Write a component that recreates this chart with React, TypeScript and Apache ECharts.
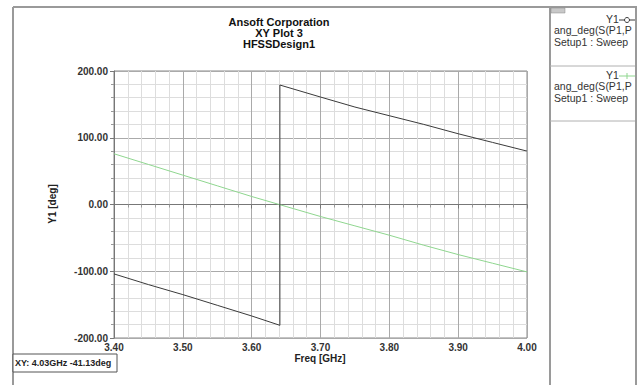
import React, { useEffect, useRef } from "react";
import * as echarts from "echarts";

const titleLines = ["Ansoft Corporation", "XY Plot 3", "HFSSDesign1"];
const blackFreq = [3.4, 3.45, 3.5, 3.55, 3.6, 3.641, 3.641, 3.7, 3.75, 3.8, 3.85, 3.9, 3.95, 4.0];
const blackDeg = [-104, -120, -135, -151, -167, -181, 179, 161, 146, 133, 120, 106, 93, 80];
const greenFreq = [3.4, 3.45, 3.5, 3.55, 3.6, 3.65, 3.7, 3.75, 3.8, 3.85, 3.9, 3.95, 4.0];
const greenDeg = [76, 60, 44, 28, 12, -3, -18, -32, -46, -61, -75, -88, -101];
const legendExpr = "ang_deg(S(P1,P1))";
const legendSetup = "Setup1 : Sweep1";
const statusText = "XY: 4.03GHz -41.13deg";

const FONT = "Arial, 'Liberation Sans', sans-serif";

export default function App() {
  const ref = useRef<HTMLDivElement>(null);
  useEffect(() => {
    if (!ref.current) return;
    const chart = echarts.init(ref.current, undefined, { renderer: "svg" });
    const frameColor = "#9a9a9a";
    const legendText = (x: number, y: number, t: string, extra: any = {}) => ({
      type: "text",
      x,
      y,
      z: 10,
      style: {
        text: t,
        fill: "#333",
        font: `10.5px ${FONT}`,
        textVerticalAlign: "middle",
        width: 79,
        overflow: "truncate",
        ellipsis: "",
        ...extra,
      },
    });
    chart.setOption({
      animation: false,
      backgroundColor: "#fff",
      grid: { left: 114, right: 112, top: 71, bottom: 47, show: true, borderColor: "#888", borderWidth: 1 },
      xAxis: {
        type: "value",
        min: 3.4,
        max: 4.0,
        interval: 0.1,
        axisLine: { show: true, lineStyle: { color: "#777" } },
        axisTick: { show: true, length: 4, lineStyle: { color: "#777" } },
        minorTick: { show: true, splitNumber: 5, length: 3, lineStyle: { color: "#999" } },
        splitLine: { show: true, lineStyle: { color: "#aaaaaa", width: 1 } },
        minorSplitLine: { show: true, lineStyle: { color: "#dddddd", width: 1 } },
        axisLabel: {
          color: "#333",
          fontFamily: FONT,
          fontWeight: "bold",
          fontSize: 10,
          margin: 4,
          formatter: (v: number) => v.toFixed(2),
        },
      },
      yAxis: {
        type: "value",
        min: -200,
        max: 200,
        interval: 100,
        axisLine: { show: true, lineStyle: { color: "#777" } },
        axisTick: { show: true, length: 4, lineStyle: { color: "#777" } },
        minorTick: { show: true, splitNumber: 5, length: 3, lineStyle: { color: "#999" } },
        splitLine: { show: true, lineStyle: { color: "#aaaaaa", width: 1 } },
        minorSplitLine: { show: true, lineStyle: { color: "#dddddd", width: 1 } },
        axisLabel: {
          color: "#333",
          fontFamily: FONT,
          fontWeight: "bold",
          fontSize: 10,
          margin: 6,
          formatter: (v: number) => v.toFixed(2),
        },
      },
      series: [
        {
          type: "line",
          data: blackFreq.map((f, i) => [f, blackDeg[i]]),
          showSymbol: false,
          lineStyle: { color: "#3a3a3a", width: 1 },
          z: 3,
        },
        {
          type: "line",
          data: greenFreq.map((f, i) => [f, greenDeg[i]]),
          showSymbol: false,
          lineStyle: { color: "#8fd68f", width: 1 },
          z: 2,
        },
      ],
      graphic: [
        // outer frame
        { type: "line", shape: { x1: 13, y1: 7, x2: 550, y2: 7 }, style: { stroke: frameColor, lineWidth: 2 } },
        { type: "line", shape: { x1: 13, y1: 7, x2: 13, y2: 385 }, style: { stroke: frameColor, lineWidth: 2 } },
        // legend panel
        { type: "rect", shape: { x: 550, y: 7, width: 86, height: 380 }, style: { fill: "#fff", stroke: frameColor, lineWidth: 2 } },
        { type: "line", shape: { x1: 550, y1: 66, x2: 636, y2: 66 }, style: { stroke: "#b0b0b0", lineWidth: 1 } },
        { type: "line", shape: { x1: 550, y1: 121, x2: 636, y2: 121 }, style: { stroke: "#b0b0b0", lineWidth: 1 } },
        { type: "rect", shape: { x: 551, y: 8, width: 14, height: 5 }, style: { fill: "#c8c8c8", stroke: "#888", lineWidth: 0.5 } },
        // legend 1
        legendText(606, 19, "Y1", { width: 20 }),
        { type: "line", z: 10, shape: { x1: 619, y1: 20, x2: 636, y2: 20 }, style: { stroke: "#3a3a3a", lineWidth: 1 } },
        { type: "circle", z: 11, shape: { cx: 627, cy: 20, r: 2.5 }, style: { fill: "#fff", stroke: "#3a3a3a", lineWidth: 1 } },
        legendText(554, 30, legendExpr),
        legendText(554, 42, legendSetup),
        // legend 2
        legendText(606, 75, "Y1", { width: 20 }),
        { type: "line", z: 10, shape: { x1: 619, y1: 76, x2: 636, y2: 76 }, style: { stroke: "#8fd68f", lineWidth: 1 } },
        { type: "line", z: 10, shape: { x1: 627, y1: 73, x2: 627, y2: 79 }, style: { stroke: "#8fd68f", lineWidth: 1 } },
        legendText(554, 86, legendExpr),
        legendText(554, 98, legendSetup),
        // clip right side
        { type: "rect", z: 20, shape: { x: 637, y: 0, width: 5, height: 385 }, style: { fill: "#fff" } },
        { type: "line", z: 21, shape: { x1: 636, y1: 7, x2: 636, y2: 385 }, style: { stroke: frameColor, lineWidth: 2 } },
        // title
        ...titleLines.map((t, i) => ({
          type: "text",
          x: 279,
          y: 22 + i * 11,
          style: { text: t, fill: "#111", font: `bold 11px ${FONT}`, textAlign: "center", textVerticalAlign: "middle" },
        })),
        // y axis name
        {
          type: "text",
          x: 52,
          y: 204,
          rotation: Math.PI / 2,
          style: { text: "Y1 [deg]", fill: "#222", font: `bold 10px ${FONT}`, textAlign: "center", textVerticalAlign: "middle" },
        },
        // x axis name
        {
          type: "text",
          x: 320,
          y: 358,
          style: { text: "Freq [GHz]", fill: "#222", font: `bold 10px ${FONT}`, textAlign: "center", textVerticalAlign: "middle" },
        },
        // status box
        { type: "rect", shape: { x: 13, y: 354, width: 104, height: 18 }, style: { fill: "#fff", stroke: "#555", lineWidth: 1 } },
        {
          type: "text",
          x: 15,
          y: 363,
          style: { text: statusText, fill: "#222", font: `bold 9px ${FONT}`, textVerticalAlign: "middle" },
        },
      ],
    });
    return () => chart.dispose();
  }, []);
  return <div ref={ref} style={{ position: "fixed", left: 0, top: 0, width: 639, height: 385 }} />;
}
